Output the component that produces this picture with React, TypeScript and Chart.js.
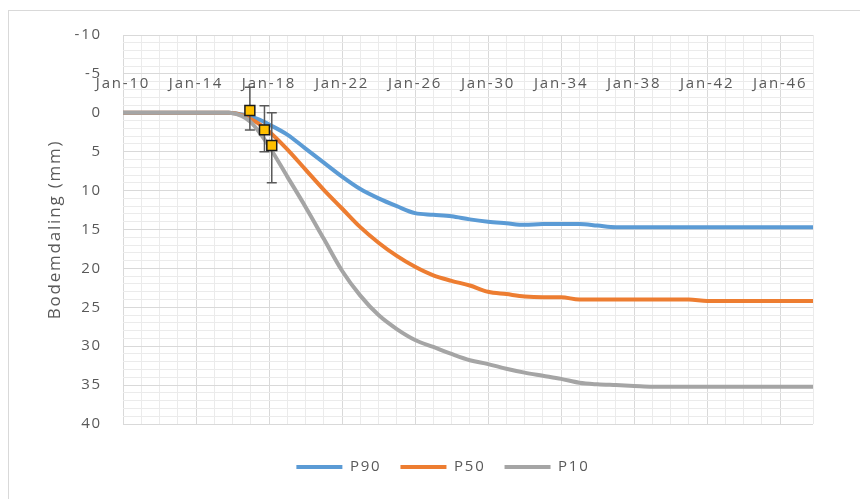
import { useEffect, useRef } from "react";
import { Chart, registerables } from "chart.js";

Chart.register(...registerables);

// ---- data ----
const years = [
  2010, 2015.8, 2016.5, 2017, 2017.5, 2018, 2019, 2020, 2021, 2022, 2023, 2024,
  2025, 2026, 2027, 2028, 2029, 2030, 2031, 2032, 2033, 2034, 2035, 2036, 2037,
  2038, 2039, 2040, 2041, 2042, 2043, 2044, 2045, 2046, 2047, 2047.8,
];
const p90 = [
  0, 0, 0.2, 0.5, 0.9, 1.5, 2.8, 4.6, 6.4, 8.2, 9.8, 11.0, 12.0, 12.9, 13.1,
  13.3, 13.7, 14.0, 14.2, 14.4, 14.3, 14.3, 14.3, 14.5, 14.7, 14.7, 14.7, 14.7,
  14.7, 14.7, 14.7, 14.7, 14.7, 14.7, 14.7, 14.7,
];
const p50 = [
  0, 0, 0.3, 0.8, 1.5, 2.4, 4.7, 7.3, 9.9, 12.3, 14.7, 16.7, 18.4, 19.8, 20.9,
  21.6, 22.2, 23.0, 23.3, 23.6, 23.7, 23.7, 24.0, 24.0, 24.0, 24.0, 24.0, 24.0,
  24.0, 24.2, 24.2, 24.2, 24.2, 24.2, 24.2, 24.2,
];
const p10 = [
  0, 0, 0.4, 1.2, 2.6, 4.3, 8.2, 12.1, 16.2, 20.3, 23.5, 26.0, 27.8, 29.2, 30.1,
  31.0, 31.8, 32.3, 32.9, 33.4, 33.8, 34.2, 34.7, 34.9, 35.0, 35.1, 35.2, 35.2,
  35.2, 35.2, 35.2, 35.2, 35.2, 35.2, 35.2, 35.2,
];
const obsYears = [2016.95, 2017.75, 2018.15];
const obsValues = [-0.3, 2.2, 4.2];
const obsLow = [-3.3, -0.9, 0.0];
const obsHigh = [2.2, 5.0, 9.0];
const xTickYears = [2010, 2014, 2018, 2022, 2026, 2030, 2034, 2038, 2042, 2046];
const xMin = 2010;
const xMax = 2047.8;
const yMin = -10;
const yMax = 40;
const seriesLabels = ["P90", "P50", "P10"];
const seriesColors = ["#5B9BD5", "#ED7D31", "#A5A5A5"];

const FONT = "'Open Sans', sans-serif";
const TEXT = "#595959";
const MAJOR = "#d9d9d9";
const MINOR = "#ebebeb";
const CLEAR = "rgba(0,0,0,0)";

const spacingPlugin = {
  id: "spacing",
  beforeUpdate(chart: any) {
    chart.ctx.letterSpacing = "1.8px";
  },
  beforeDraw(chart: any) {
    chart.ctx.letterSpacing = "1.8px";
  },
};

const errorBarPlugin = {
  id: "errorBars",
  beforeDatasetDraw(chart: any, args: any) {
    if (args.index !== 3) return;
    const { ctx, scales } = chart;
    const x = scales.x;
    const y = scales.y;
    ctx.save();
    ctx.strokeStyle = "#595959";
    ctx.lineWidth = 1.5;
    obsYears.forEach((yr, i) => {
      const px = x.getPixelForValue(yr);
      const y1 = y.getPixelForValue(obsLow[i]);
      const y2 = y.getPixelForValue(obsHigh[i]);
      ctx.beginPath();
      ctx.moveTo(px, y1);
      ctx.lineTo(px, y2);
      ctx.moveTo(px - 5, y1);
      ctx.lineTo(px + 5, y1);
      ctx.moveTo(px - 5, y2);
      ctx.lineTo(px + 5, y2);
      ctx.stroke();
    });
    ctx.restore();
  },
};

export default function App() {
  const ref = useRef<HTMLCanvasElement | null>(null);

  useEffect(() => {
    if (!ref.current) return;
    const series = [p90, p50, p10];
    const datasets: any[] = series.map((vals, s) => ({
      label: seriesLabels[s],
      data: years.map((x, i) => ({ x, y: vals[i] })),
      borderColor: seriesColors[s],
      backgroundColor: seriesColors[s],
      borderWidth: 4,
      pointRadius: 0,
      pointHoverRadius: 0,
      cubicInterpolationMode: "monotone",
      borderCapStyle: "round",
      borderJoinStyle: "round",
      order: 3 - s,
    }));
    datasets.push({
      label: "obs",
      data: obsYears.map((x, i) => ({ x, y: obsValues[i] })),
      showLine: false,
      pointStyle: "rect",
      pointRadius: 7,
      pointBackgroundColor: "#FFC000",
      pointBorderColor: "#1a1a1a",
      pointBorderWidth: 1.5,
      order: 0,
    });

    const chart = new Chart(ref.current, {
      type: "line",
      data: { datasets },
      plugins: [spacingPlugin, errorBarPlugin],
      options: {
        responsive: false,
        animation: false,
        layout: { padding: { left: 26, right: 0, top: 35, bottom: 14.5 } },
        plugins: {
          tooltip: { enabled: false },
          legend: {
            position: "bottom",
            labels: {
              boxWidth: 46,
              boxHeight: 4,
              padding: 19,
              color: TEXT,
              font: { family: FONT, size: 15 },
              filter: (item: any) => item.datasetIndex < 3,
              sort: (a: any, b: any) => a.datasetIndex - b.datasetIndex,
              generateLabels: (c: any) =>
                (Chart.defaults.plugins.legend.labels as any)
                  .generateLabels(c)
                  .map((l: any) => ({ ...l, lineWidth: 0, fillStyle: l.strokeStyle })),
            },
          },
        },
        scales: {
          x: {
            type: "linear",
            position: { y: 0 } as any,
            min: xMin,
            max: xMax,
            afterBuildTicks: (s: any) => {
              s.ticks = xTickYears.map((v) => ({ value: v }));
            },
            ticks: {
              autoSkip: false,
              maxRotation: 0,
              padding: -38,
              color: TEXT,
              font: { family: FONT, size: 15 },
              callback: (v: any) => "Jan-" + String(v).slice(2),
            },
            grid: { color: MAJOR, drawTicks: false },
            border: { display: false },
          },
          xMinor: {
            type: "linear",
            position: "bottom",
            min: xMin,
            max: xMax,
            ticks: { display: false, stepSize: 1 },
            grid: {
              drawTicks: false,
              color: (ctx: any) =>
                (Math.round(ctx.tick.value) - xMin) % 4 === 0 ? CLEAR : MINOR,
            },
            border: { display: false },
            afterFit: (s: any) => {
              s.height = 16.5;
            },
          },
          y: {
            type: "linear",
            reverse: true,
            min: yMin,
            max: yMax,
            ticks: {
              stepSize: 5,
              padding: 21,
              color: TEXT,
              font: { family: FONT, size: 15 },
            },
            grid: { color: MAJOR, drawTicks: false },
            border: { display: false },
            title: {
              display: true,
              text: "Bodemdaling (mm)",
              color: TEXT,
              font: { family: FONT, size: 17 },
              padding: { top: 19, bottom: 0 },
            },
            afterFit: (s: any) => {
              s.width = 97;
            },
          },
          yMinor: {
            type: "linear",
            position: "right",
            reverse: true,
            min: yMin,
            max: yMax,
            ticks: { display: false, stepSize: 1 },
            grid: {
              drawTicks: false,
              color: (ctx: any) =>
                Math.round(ctx.tick.value) % 5 === 0 ? CLEAR : MINOR,
            },
            border: { display: false },
            afterFit: (s: any) => {
              s.width = 47;
            },
          },
        },
      } as any,
    });
    return () => chart.destroy();
  }, []);

  return (
    <div style={{ position: "fixed", left: 0, top: 0, width: 860, height: 499, overflow: "hidden", background: "#fff" }}>
      <div
        style={{
          position: "absolute",
          left: 8,
          top: 10,
          width: 852,
          height: 489,
          borderLeft: "1px solid #d9d9d9",
          borderTop: "1px solid #d9d9d9",
        }}
      />
      <canvas ref={ref} width={860} height={499} style={{ position: "absolute", left: 0, top: 0 }} />
    </div>
  );
}
